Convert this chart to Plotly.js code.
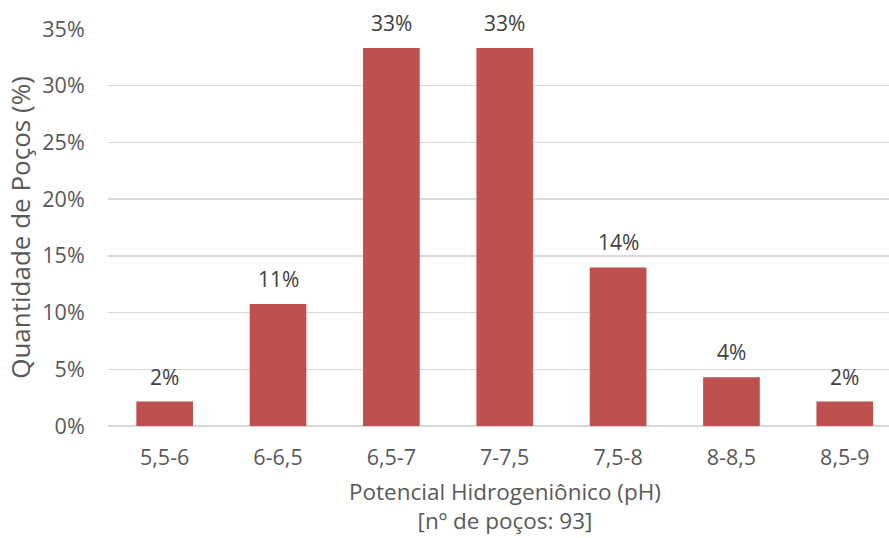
<!DOCTYPE html>
<html>
<head>
<meta charset="utf-8">
<script src="https://cdn.plot.ly/plotly-3.0.1.min.js"></script>
<style>
  html, body { margin: 0; padding: 0; background: #ffffff; }
  #chart { width: 889px; height: 538px; }
</style>
</head>
<body>
<div id="chart"></div>
<script>
// pH classes of the sampled wells
const categories = ['5,5-6', '6-6,5', '6,5-7', '7-7,5', '7,5-8', '8-8,5', '8,5-9'];
// share of wells in each class (%)
const wellShare = [2.15, 10.75, 33.33, 33.33, 13.98, 4.30, 2.15];
const yTicks = [0, 5, 10, 15, 20, 25, 30, 35];
const yTickLabels = ['0%', '5%', '10%', '15%', '20%', '25%', '30%', '35%'];

const FONT = '"Open Sans", "Noto Sans", sans-serif';
const barColor = '#c0504d';
const gridColor = '#d9d9d9';

const trace = {
  type: 'bar',
  x: categories,
  y: wellShare,
  marker: { color: barColor },
  hoverinfo: 'x+y'
};

// value labels above each bar
const valueLabels = categories.map((c, i) => ({
  x: c,
  y: wellShare[i],
  xref: 'x',
  yref: 'y',
  text: Math.round(wellShare[i]) + '%',
  showarrow: false,
  yanchor: 'bottom',
  yshift: 9,
  font: { family: FONT, size: 21, color: '#404040' }
}));

// two-line axis caption under the category labels
valueLabels.push({
  x: 3,
  y: 0,
  xref: 'x',
  yref: 'paper',
  yanchor: 'top',
  yshift: -48,
  showarrow: false,
  text: 'Potencial Hidrogeniônico (pH)<br>[nº de poços: 93]',
  align: 'center',
  font: { family: FONT, size: 22.5, color: '#595959' }
});

const layout = {
  width: 889,
  height: 538,
  margin: { l: 108, r: 0, t: 29, b: 112 },
  paper_bgcolor: '#ffffff',
  plot_bgcolor: '#ffffff',
  showlegend: false,
  bargap: 0.5,
  font: { family: FONT, color: '#595959' },
  xaxis: {
    type: 'category',
    range: [-0.5, 6.39],
    showgrid: false,
    showline: false,
    zeroline: false,
    ticks: 'outside',
    ticklen: 12,
    tickcolor: 'rgba(0,0,0,0)',
    tickfont: { family: FONT, size: 21.5, color: '#595959' }
  },
  yaxis: {
    range: [0, 35],
    tickvals: yTicks,
    ticktext: yTickLabels,
    showgrid: true,
    gridcolor: gridColor,
    gridwidth: 1.5,
    zeroline: true,
    zerolinecolor: gridColor,
    zerolinewidth: 1.5,
    showline: false,
    ticks: 'outside',
    ticklen: 18,
    tickcolor: 'rgba(0,0,0,0)',
    tickfont: { family: FONT, size: 21.5, color: '#595959' },
    title: {
      text: 'Quantidade de Poços (%)',
      standoff: 4,
      font: { family: FONT, size: 26, color: '#595959' }
    }
  },
  annotations: valueLabels
};

Plotly.newPlot('chart', [trace], layout, { displayModeBar: false, staticPlot: true });
</script>
</body>
</html>
